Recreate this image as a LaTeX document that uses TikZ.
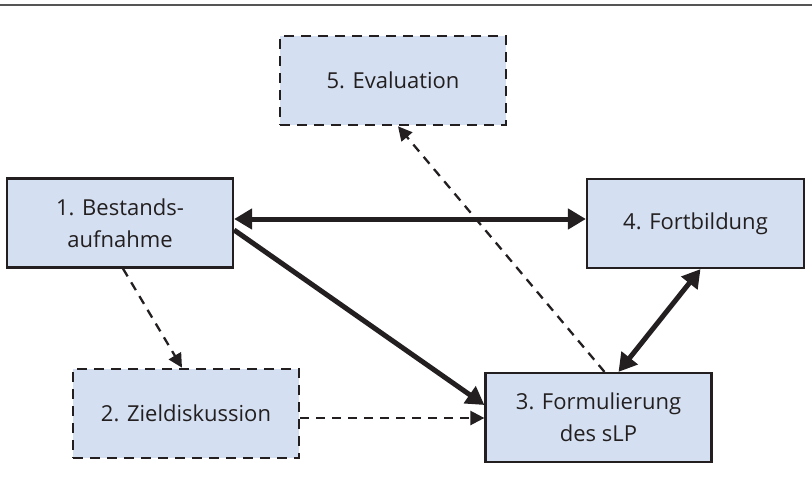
\documentclass[tikz,border=0pt]{standalone}
\usepackage{fontspec}
\setmainfont{Open Sans}
\definecolor{boxfill}{HTML}{D4E0F1}
\definecolor{inkdark}{HTML}{231F20}
\definecolor{rulegray}{HTML}{555555}
\usetikzlibrary{arrows.meta}

\begin{document}
\begin{tikzpicture}[x=1pt, y=-1pt,
  stage/.style={draw=inkdark, line width=2.2pt, fill=boxfill, minimum width=226pt,
                minimum height=89pt, inner sep=0pt, align=center, text=inkdark,
                font=\fontsize{22}{32}\selectfont},
  optstage/.style={stage, line width=2.6pt, dash pattern=on 10pt off 7pt},
  link/.style={-{Triangle[length=18pt, width=20pt]}, line width=5pt, inkdark},
  duallink/.style={link, {Triangle[length=18pt, width=20pt]}-{Triangle[length=18pt, width=20pt]}},
  optlink/.style={-{Triangle[length=14pt, width=14pt]}, line width=2.3pt, inkdark,
                  dash pattern=on 9pt off 7pt}]
  \useasboundingbox (0,0) rectangle (812,490);
  \draw[rulegray, line width=2pt] (0,5) -- (812,5);
  \node[stage] (bestand) at (120,223) {1. Bestands-\\aufnahme};
  \node[optstage] (ziel) at (186,413.5) {2. Zieldiskussion};
  \node[stage] (formul) at (598.5,417.5) {3. Formulierung\\des sLP};
  \node[stage, minimum width=217pt] (fortbild) at (695.5,223.5) {4. Fortbildung};
  \node[optstage] (eval) at (393,80.5) {5. Evaluation};
  \draw[duallink] ([yshift=4pt]bestand.east) -- ([yshift=4pt]bestand.east -| fortbild.west);
  \draw[link] ([yshift=-7pt]bestand.east) -- ([yshift=12.5pt]formul.west);
  \draw[duallink] ([xshift=20pt]formul.north) -- ([xshift=5pt]fortbild.south);
  % dashed links
  \draw[optlink] ([xshift=3pt]bestand.south) -- ([xshift=-4pt]ziel.north);
  \draw[optlink] ([yshift=-4.5pt]ziel.east) -- ([yshift=-4.5pt]ziel.east -| formul.west);
  \draw[optlink] ([xshift=6pt]formul.north) -- ([xshift=5pt]eval.south);
\end{tikzpicture}
\end{document}
